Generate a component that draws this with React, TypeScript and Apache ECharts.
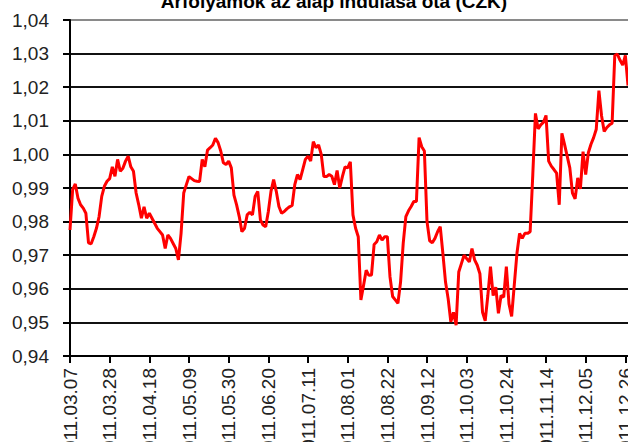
import React, { useEffect, useRef } from "react";
import * as echarts from "echarts";

const TITLE = "Árfolyamok az alap indulása óta (CZK)";
const START_DATE = "2011-03-07";
const DAY_COUNT = 212;

const yTicks = { min: 0.94, max: 1.04, step: 0.01 };

// daily prices (business days from START_DATE)
const prices: number[] = [
  0.9775, 0.9895, 0.9912, 0.987, 0.985, 0.984, 0.9825, 0.9737, 0.9734, 0.9755, 0.978, 0.9815, 0.9875, 0.9905, 0.992,
  0.9928, 0.9963, 0.9935, 0.9985, 0.995, 0.9959, 0.998, 0.9995, 0.9963, 0.995, 0.9885, 0.985, 0.981, 0.9844, 0.981,
  0.9825, 0.981, 0.9795, 0.978, 0.977, 0.976, 0.972, 0.976, 0.975, 0.9735, 0.972, 0.9686, 0.9765, 0.9885, 0.991,
  0.9934, 0.9928, 0.9922, 0.992, 0.9919, 0.9985, 0.9963, 1.0013, 1.002, 1.0028, 1.0048, 1.0035, 1.001, 0.9975, 0.997,
  0.998, 0.996, 0.9879, 0.985, 0.9815, 0.977, 0.978, 0.982, 0.9828, 0.982, 0.9875, 0.989, 0.9805, 0.979, 0.9785,
  0.983, 0.989, 0.9925, 0.989, 0.9845, 0.9825, 0.983, 0.9838, 0.9844, 0.9848, 0.991, 0.994, 0.9925, 0.9955, 0.9985,
  0.9995, 0.998, 1.0038, 1.002, 1.0028, 1.0, 0.9934, 0.9934, 0.994, 0.9935, 0.991, 0.9952, 0.99, 0.9934, 0.9963,
  0.996, 0.9978, 0.982, 0.978, 0.9755, 0.9567, 0.961, 0.9655, 0.964, 0.9641, 0.9732, 0.974, 0.976, 0.9745, 0.9755,
  0.9755, 0.9636, 0.9577, 0.9567, 0.9557, 0.962, 0.9735, 0.9815, 0.9832, 0.9845, 0.986, 0.986, 1.005, 1.0023, 1.001,
  0.98, 0.9743, 0.9737, 0.975, 0.977, 0.9785, 0.9705, 0.962, 0.957, 0.9502, 0.953, 0.9492, 0.965, 0.9675, 0.97,
  0.969, 0.968, 0.972, 0.9686, 0.967, 0.9645, 0.953, 0.9505, 0.958, 0.9666, 0.958, 0.9605, 0.9527, 0.958, 0.9575,
  0.9666, 0.9555, 0.9518, 0.9612, 0.9705, 0.9765, 0.975, 0.9765, 0.9765, 0.977, 0.994, 1.0122, 1.0076, 1.0088, 1.0095,
  1.0116, 0.998, 0.9965, 0.9955, 0.9944, 0.985, 1.0063, 1.003, 0.9995, 0.996, 0.9885, 0.9868, 0.993, 0.9897, 1.0008,
  0.994, 1.0005, 1.003, 1.005, 1.0075, 1.019, 1.0115, 1.0068, 1.008, 1.0088, 1.0093, 1.0295, 1.0298, 1.028, 1.0266,
  1.0295, 1.0205,
];

function businessDays(start: string, n: number): string[] {
  const out: string[] = [];
  const d = new Date(start + "T00:00:00Z");
  while (out.length < n) {
    const wd = d.getUTCDay();
    if (wd !== 0 && wd !== 6) {
      const y = d.getUTCFullYear();
      const m = String(d.getUTCMonth() + 1).padStart(2, "0");
      const dd = String(d.getUTCDate()).padStart(2, "0");
      out.push(`${y}.${m}.${dd}`);
    }
    d.setUTCDate(d.getUTCDate() + 1);
  }
  return out;
}

const dates = businessDays(START_DATE, DAY_COUNT);

const FONT = "'Liberation Sans', Arial, sans-serif";

export default function App() {
  const ref = useRef<HTMLDivElement>(null);
  useEffect(() => {
    if (!ref.current) return;
    const chart = echarts.init(ref.current, null, { renderer: "svg" });
    const gridColors: string[] = [];
    for (let i = 0; i < 10; i++) gridColors.push("#111");
    gridColors.push("#8a8a8a");
    chart.setOption({
      animation: false,
      backgroundColor: "#fff",
      grid: {
        left: 70,
        right: 0,
        top: 20,
        bottom: 86,
        containLabel: false,
        outerBoundsMode: "none",
      },
      graphic: [
        {
          type: "text",
          x: 334,
          y: 11,
          style: {
            text: TITLE,
            font: `bold 19px ${FONT}`,
            fill: "#000",
            align: "center",
            verticalAlign: "bottom",
          },
        },
      ],
      xAxis: {
        type: "category",
        data: dates,
        boundaryGap: false,
        axisLine: { lineStyle: { color: "#000", width: 2 } },
        axisTick: { interval: 14, length: 7, lineStyle: { color: "#000", width: 2 } },
        axisLabel: {
          interval: 14,
          rotate: 90,
          margin: 12,
          fontSize: 19,
          fontFamily: FONT,
          color: "#222",
        },
        splitLine: { show: false },
      },
      yAxis: {
        type: "value",
        min: yTicks.min,
        max: yTicks.max,
        interval: yTicks.step,
        axisLine: { show: true, lineStyle: { color: "#000", width: 2 } },
        axisTick: { show: true, length: 7, lineStyle: { color: "#000", width: 2 } },
        axisLabel: {
          margin: 21,
          fontSize: 19,
          fontFamily: FONT,
          color: "#222",
          formatter: (v: number) => v.toFixed(2).replace(".", ","),
        },
        splitLine: { show: true, lineStyle: { color: gridColors, width: 2 } },
      },
      series: [
        {
          type: "line",
          data: prices,
          symbol: "none",
          showSymbol: false,
          lineStyle: { color: "#ff0000", width: 3 },
          z: 5,
        },
      ],
    });
    return () => chart.dispose();
  }, []);
  return (
    <div
      ref={ref}
      style={{ position: "fixed", left: 0, top: 0, width: 628, height: 442 }}
    />
  );
}
